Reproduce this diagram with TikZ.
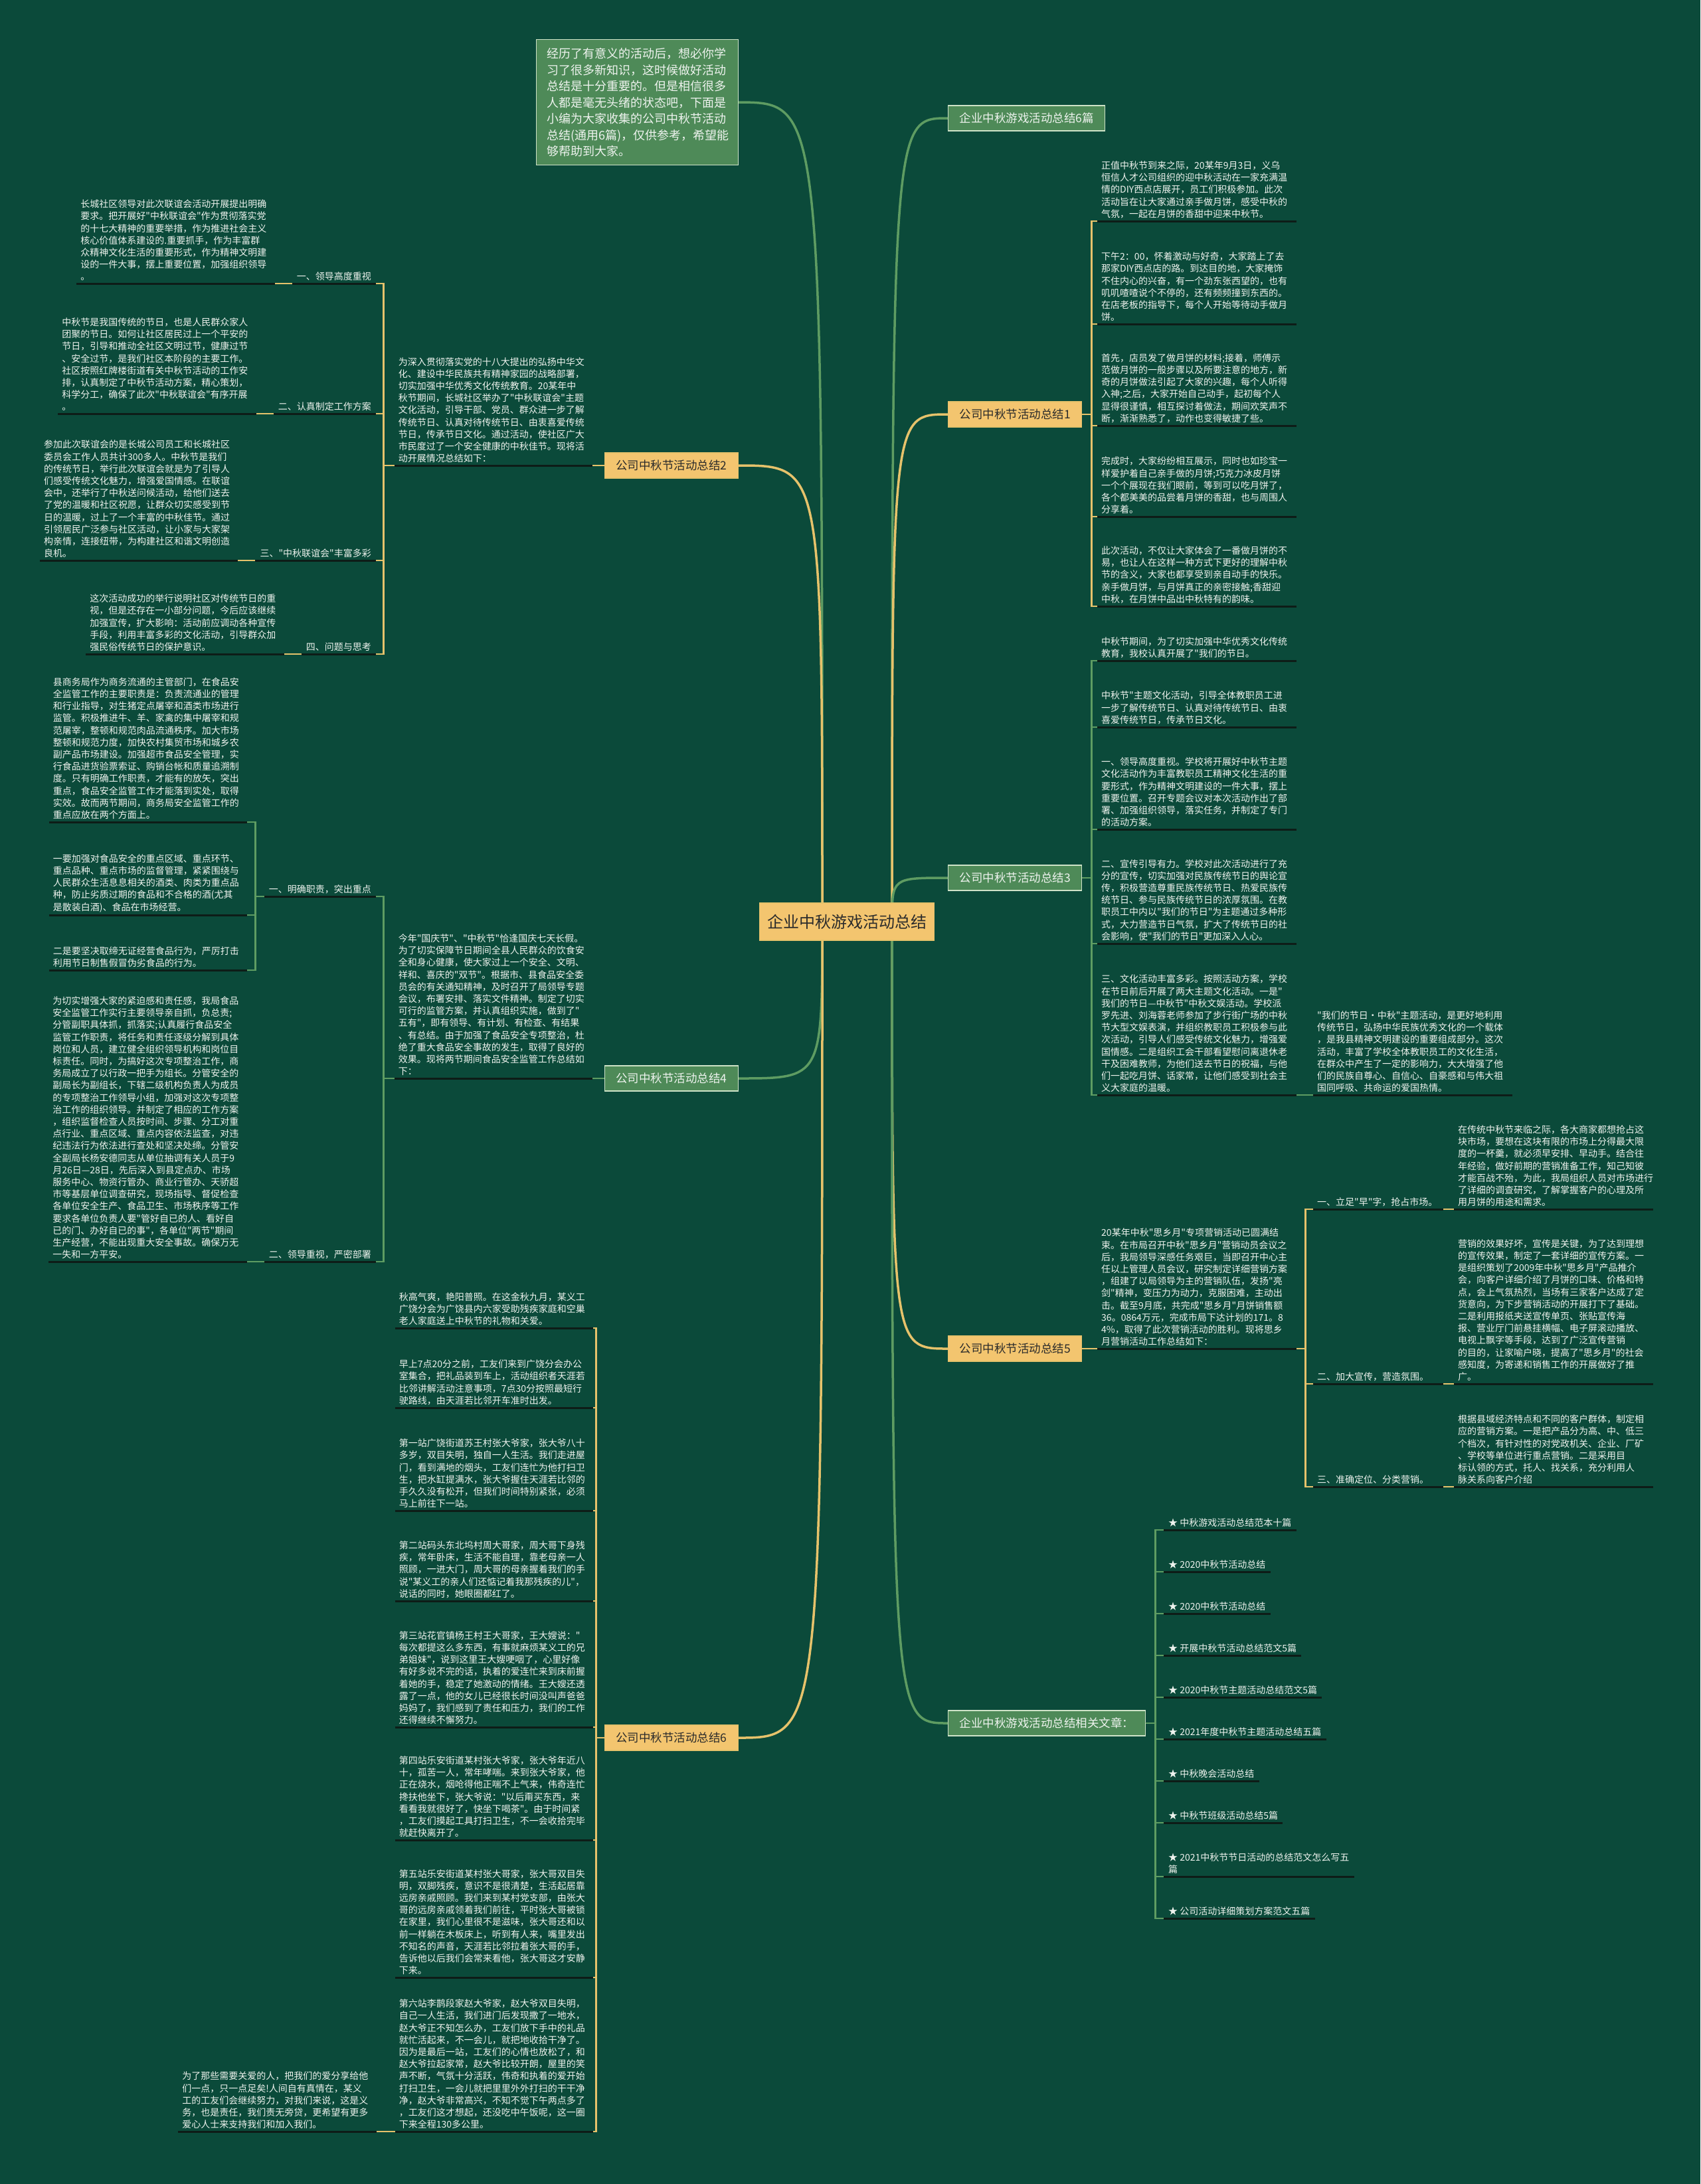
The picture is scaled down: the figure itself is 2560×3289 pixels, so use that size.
\documentclass[tikz,border=0pt]{standalone}
\usepackage{fontspec}
\newfontfamily\cjk{Noto Sans CJK SC}
\usetikzlibrary{positioning}
\definecolor{bg}{HTML}{0B4A3A}
\definecolor{yline}{HTML}{E6C26B}
\definecolor{yfill}{HTML}{F3C56F}
\definecolor{gline}{HTML}{5E9C62}
\definecolor{gfill}{HTML}{4E8A58}
\definecolor{gedge}{HTML}{CFE3C8}
\definecolor{paper}{HTML}{EEF3EE}
\definecolor{inkdark}{HTML}{2B2B2B}
\definecolor{ulcol}{HTML}{0E1C17}

\begin{document}
\begin{tikzpicture}[x=1pt, y=-1pt,
    font=\cjk\fontsize{14}{18.2}\selectfont,
    rootbox/.style={draw=yline, line width=1.5pt, fill=yfill, text=inkdark, font=\cjk\fontsize{24}{28}\selectfont, minimum width=263pt, minimum height=56pt},
    ybox/.style={draw=yline, line width=1.2pt, fill=yfill, text=inkdark, font=\cjk\fontsize{17.5}{20}\selectfont, minimum height=38pt, inner xsep=17pt},
    gbox/.style={draw=gedge, line width=1.2pt, fill=gfill, text=paper, font=\cjk\fontsize{17.5}{20}\selectfont, minimum height=38pt, inner xsep=17pt},
    introbox/.style={draw=gedge, line width=1.2pt, fill=gfill, text=paper, font=\cjk\fontsize{18}{24.5}\selectfont, align=left, text width=272pt, minimum height=189pt, inner xsep=16pt},
    para/.style={text=paper, align=left, text width=#1, inner xsep=6pt, inner ysep=4pt},
    para/.default=286pt,
    lab/.style={text=paper, align=left, inner xsep=7pt, inner ysep=4pt},
    uline/.style={draw=ulcol, line width=3pt},
    ylink/.style={draw=yline, line width=2.6pt},
    glink/.style={draw=gline, line width=2.6pt},
    ycurve/.style={draw=yline, line width=3.5pt},
    gcurve/.style={draw=gline, line width=3.5pt}
  ]
  \fill[bg] (0,0) rectangle (2560,3289);
  \useasboundingbox (0,0) rectangle (2560,3289);

  % centre and main topics
  \coordinate (rootR) at (1343,1388);
  \coordinate (rootL) at (1238,1388);
  \node[introbox, anchor=north east] (intro) at (1112,59) {经历了有意义的活动后，想必你学\\习了很多新知识，这时候做好活动\\总结是十分重要的。但是相信很多\\人都是毫无头绪的状态吧，下面是\\小编为大家收集的公司中秋节活动\\总结(通用6篇)，仅供参考，希望能\\够帮助到大家。};
  \node[gbox, anchor=west] (b0) at (1427,178) {企业中秋游戏活动总结6篇};
  \node[ybox, anchor=west] (b1) at (1427,624) {公司中秋节活动总结1};
  \node[gbox, anchor=west] (b3) at (1427,1322) {公司中秋节活动总结3};
  \node[ybox, anchor=west] (b5) at (1427,2031) {公司中秋节活动总结5};
  \node[gbox, anchor=west] (brel) at (1427,2595) {企业中秋游戏活动总结相关文章：};
  \node[ybox, anchor=east] (b2) at (1112,701) {公司中秋节活动总结2};
  \node[gbox, anchor=east] (b4) at (1112,1624) {公司中秋节活动总结4};
  \node[ybox, anchor=east] (b6) at (1112,2617) {公司中秋节活动总结6};

  \draw[gcurve] (rootL) .. controls (rootL |- intro.east) .. (intro.east);
  \draw[gcurve] (rootR) .. controls (rootR |- b0.west) .. (b0.west);
  \draw[ycurve] (rootR) .. controls (rootR |- b1.west) .. (b1.west);
  \draw[gcurve] (rootR) .. controls (rootR |- b3.west) .. (b3.west);
  \draw[ycurve] (rootR) .. controls (rootR |- b5.west) .. (b5.west);
  \draw[gcurve] (rootR) .. controls (rootR |- brel.west) .. (brel.west);
  \draw[ycurve] (rootL) .. controls (rootL |- b2.east) .. (b2.east);
  \draw[gcurve] (rootL) .. controls (rootL |- b4.east) .. (b4.east);
  \draw[ycurve] (rootL) .. controls (rootL |- b6.east) .. (b6.east);
  \node[rootbox] (root) at (1275,1388) {企业中秋游戏活动总结};

  % summary 1
  \node[para=288pt, anchor=south west] (r1a) at (1652,333) {正值中秋节到来之际，20某年9月3日，义乌\\恒信人才公司组织的迎中秋活动在一家充满温\\情的DIY西点店展开，员工们积极参加。此次\\活动旨在让大家通过亲手做月饼，感受中秋的\\气氛，一起在月饼的香甜中迎来中秋节。};
  \node[para=288pt, anchor=south west] (r1b) at (1652,488) {下午2：00，怀着激动与好奇，大家踏上了去\\那家DIY西点店的路。到达目的地，大家掩饰\\不住内心的兴奋，有一个劲东张西望的，也有\\叽叽喳喳说个不停的，还有频频撞到东西的。\\在店老板的指导下，每个人开始等待动手做月\\饼。};
  \node[para=288pt, anchor=south west] (r1c) at (1652,641) {首先，店员发了做月饼的材料;接着，师傅示\\范做月饼的一般步骤以及所要注意的地方，新\\奇的月饼做法引起了大家的兴趣，每个人听得\\入神;之后，大家开始自己动手，起初每个人\\显得很谨慎，相互探讨着做法，期间欢笑声不\\断，渐渐熟悉了，动作也变得敏捷了些。};
  \node[para=288pt, anchor=south west] (r1d) at (1652,778) {完成时，大家纷纷相互展示，同时也如珍宝一\\样爱护着自己亲手做的月饼;巧克力冰皮月饼\\一个个展现在我们眼前，等到可以吃月饼了，\\各个都美美的品尝着月饼的香甜，也与周围人\\分享着。};
  \node[para=288pt, anchor=south west] (r1e) at (1652,913) {此次活动，不仅让大家体会了一番做月饼的不\\易，也让人在这样一种方式下更好的理解中秋\\节的含义，大家也都享受到亲自动手的快乐。\\亲手做月饼，与月饼真正的亲密接触;香甜迎\\中秋，在月饼中品出中秋特有的韵味。};
  \foreach \c in {r1a,r1b,r1c,r1d,r1e}
    \draw[ylink] (b1.east) -- ++(14,0) |- (\c.south west);

  % summary 3
  \node[para=288pt, anchor=south west] (r3a) at (1652,995) {中秋节期间，为了切实加强中华优秀文化传统\\教育，我校认真开展了"我们的节日。};
  \node[para=288pt, anchor=south west] (r3b) at (1652,1095) {中秋节"主题文化活动，引导全体教职员工进\\一步了解传统节日、认真对待传统节日、由衷\\喜爱传统节日，传承节日文化。};
  \node[para=288pt, anchor=south west] (r3c) at (1652,1249) {一、领导高度重视。学校将开展好中秋节主题\\文化活动作为丰富教职员工精神文化生活的重\\要形式，作为精神文明建设的一件大事，摆上\\重要位置。召开专题会议对本次活动作出了部\\署、加强组织领导，落实任务，并制定了专门\\的活动方案。};
  \node[para=288pt, anchor=south west] (r3d) at (1652,1421) {二、宣传引导有力。学校对此次活动进行了充\\分的宣传，切实加强对民族传统节日的舆论宣\\传，积极营造尊重民族传统节日、热爱民族传\\统节日、参与民族传统节日的浓厚氛围。在教\\职员工中内以"我们的节日"为主题通过多种形\\式，大力营造节日气氛，扩大了传统节日的社\\会影响，使"我们的节日"更加深入人心。};
  \node[para=288pt, anchor=south west] (r3e) at (1652,1649) {三、文化活动丰富多彩。按照活动方案，学校\\在节日前后开展了两大主题文化活动。一是"\\我们的节日—中秋节"中秋文娱活动。学校派\\罗先进、刘海蓉老师参加了步行街广场的中秋\\节大型文娱表演，并组织教职员工积极参与此\\次活动，引导人们感受传统文化魅力，增强爱\\国情感。二是组织工会干部看望慰问离退休老\\干及困难教师，为他们送去节日的祝福，与他\\们一起吃月饼、话家常，让他们感受到社会主\\义大家庭的温暖。};
  \node[para=288pt, anchor=south west] (r3f) at (1977,1649) {"我们的节日·中秋"主题活动，是更好地利用\\传统节日，弘扬中华民族优秀文化的一个载体\\，是我县精神文明建设的重要组成部分。这次\\活动，丰富了学校全体教职员工的文化生活，\\在群众中产生了一定的影响力，大大增强了他\\们的民族自尊心、自信心、自豪感和与伟大祖\\国同呼吸、共命运的爱国热情。};
  \foreach \c in {r3a,r3b,r3c,r3d,r3e}
    \draw[glink] (b3.east) -- ++(14,0) |- (\c.south west);
  \draw[glink] (r3e.south east) -- (r3f.south west);

  % summary 5
  \node[para=288pt, anchor=south west] (r5a) at (1652,2031) {20某年中秋"思乡月"专项营销活动已圆满结\\束。在市局召开中秋"思乡月"营销动员会议之\\后，我局领导深感任务艰巨，当即召开中心主\\任以上管理人员会议，研究制定详细营销方案\\，组建了以局领导为主的营销队伍，发扬"亮\\剑"精神，变压力为动力，克服困难，主动出\\击。截至9月底，共完成"思乡月"月饼销售额\\36。0864万元，完成市局下达计划的171。8\\4\%，取得了此次营销活动的胜利。现将思乡\\月营销活动工作总结如下：};
  \node[para=184pt, anchor=south west] (r5l1) at (1977,1821) {一、立足"早"字，抢占市场。};
  \node[para=184pt, anchor=south west] (r5l2) at (1977,2084) {二、加大宣传，营造氛围。};
  \node[para=184pt, anchor=south west] (r5l3) at (1977,2239) {三、准确定位、分类营销。};
  \node[para=288pt, anchor=south west] (r5t1) at (2189,1821) {在传统中秋节来临之际，各大商家都想抢占这\\块市场，要想在这块有限的市场上分得最大限\\度的一杯羹，就必须早安排、早动手。结合往\\年经验，做好前期的营销准备工作，知己知彼\\才能百战不殆，为此，我局组织人员对市场进行\\了详细的调查研究，了解掌握客户的心理及所\\用月饼的用途和需求。};
  \node[para=288pt, anchor=south west] (r5t2) at (2189,2084) {营销的效果好坏，宣传是关键，为了达到理想\\的宣传效果，制定了一套详细的宣传方案。一\\是组织策划了2009年中秋"思乡月"产品推介\\会，向客户详细介绍了月饼的口味、价格和特\\点，会上气氛热烈，当场有三家客户达成了定\\货意向，为下步营销活动的开展打下了基础。\\二是利用报纸夹送宣传单页、张贴宣传海\\报、营业厅门前悬挂横幅、电子屏滚动播放、\\电视上飘字等手段，达到了广泛宣传营销\\的目的，让家喻户晓，提高了"思乡月"的社会\\感知度，为寄递和销售工作的开展做好了推\\广。};
  \node[para=288pt, anchor=south west] (r5t3) at (2189,2239) {根据县域经济特点和不同的客户群体，制定相\\应的营销方案。一是把产品分为高、中、低三\\个档次，有针对性的对党政机关、企业、厂矿\\、学校等单位进行重点营销。二是采用目\\标认领的方式，托人、找关系，充分利用人\\脉关系向客户介绍};
  \draw[ylink] (b5.east) -- (r5a.south west);
  \foreach \c in {r5l1,r5l2,r5l3}
    \draw[ylink] (r5a.south east) -- ++(13,0) |- (\c.south west);
  \draw[ylink] (r5l1.south east) -- (r5t1.south west);
  \draw[ylink] (r5l2.south east) -- (r5t2.south west);
  \draw[ylink] (r5l3.south east) -- (r5t3.south west);

  % related articles
  \node[lab, anchor=south west] (k1) at (1752,2304) {★ 中秋游戏活动总结范本十篇};
  \node[lab, anchor=south west] (k2) at (1752,2367) {★ 2020中秋节活动总结};
  \node[lab, anchor=south west] (k3) at (1752,2430) {★ 2020中秋节活动总结};
  \node[lab, anchor=south west] (k4) at (1752,2493) {★ 开展中秋节活动总结范文5篇};
  \node[lab, anchor=south west] (k5) at (1752,2556) {★ 2020中秋节主题活动总结范文5篇};
  \node[lab, anchor=south west] (k6) at (1752,2619) {★ 2021年度中秋节主题活动总结五篇};
  \node[lab, anchor=south west] (k7) at (1752,2682) {★ 中秋晚会活动总结};
  \node[lab, anchor=south west] (k8) at (1752,2745) {★ 中秋节班级活动总结5篇};
  \node[lab, anchor=south west] (k9) at (1752,2826) {★ 2021中秋节节日活动的总结范文怎么写五\\篇};
  \node[lab, anchor=south west] (k10) at (1752,2889) {★ 公司活动详细策划方案范文五篇};
  \foreach \c in {k1,k2,k3,k4,k5,k6,k7,k8,k9,k10}
    \draw[glink] (brel.east) -- ++(15,0) |- (\c.south west);

  % summary 2
  \node[para, anchor=south east] (l2t) at (892,701) {为深入贯彻落实党的十八大提出的弘扬中华文\\化、建设中华民族共有精神家园的战略部署，\\切实加强中华优秀文化传统教育。20某年中\\秋节期间，长城社区举办了"中秋联谊会"主题\\文化活动，引导干部、党员、群众进一步了解\\传统节日、认真对待传统节日、由衷喜爱传统\\节日，传承节日文化。通过活动，使社区广大\\市民度过了一个安全健康的中秋佳节。现将活\\动开展情况总结如下：};
  \node[lab, anchor=south east] (l2l1) at (566,427) {一、领导高度重视};
  \node[lab, anchor=south east] (l2l2) at (566,623) {二、认真制定工作方案};
  \node[lab, anchor=south east] (l2l3) at (566,844) {三、"中秋联谊会"丰富多彩};
  \node[lab, anchor=south east] (l2l4) at (566,985) {四、问题与思考};
  \node[para, anchor=south east] (l2a) at ([xshift=-26pt]l2l1.south west) {长城社区领导对此次联谊会活动开展提出明确\\要求。把开展好"中秋联谊会"作为贯彻落实党\\的十七大精神的重要举措，作为推进社会主义\\核心价值体系建设的.重要抓手，作为丰富群\\众精神文化生活的重要形式，作为精神文明建\\设的一件大事，摆上重要位置，加强组织领导\\。};
  \node[para, anchor=south east] (l2b) at ([xshift=-26pt]l2l2.south west) {中秋节是我国传统的节日，也是人民群众家人\\团聚的节日。如何让社区居民过上一个平安的\\节日，引导和推动全社区文明过节，健康过节\\、安全过节，是我们社区本阶段的主要工作。\\社区按照红牌楼街道有关中秋节活动的工作安\\排，认真制定了中秋节活动方案，精心策划，\\科学分工，确保了此次"中秋联谊会"有序开展\\。};
  \node[para, anchor=south east] (l2c) at ([xshift=-26pt]l2l3.south west) {参加此次联谊会的是长城公司员工和长城社区\\委员会工作人员共计300多人。中秋节是我们\\的传统节日，举行此次联谊会就是为了引导人\\们感受传统文化魅力，增强爱国情感。在联谊\\会中，还举行了中秋送问候活动，给他们送去\\了党的温暖和社区祝愿，让群众切实感受到节\\日的温暖，过上了一个丰富的中秋佳节。通过\\引领居民广泛参与社区活动，让小家与大家架\\构亲情，连接纽带，为构建社区和谐文明创造\\良机。};
  \node[para, anchor=south east] (l2d) at ([xshift=-26pt]l2l4.south west) {这次活动成功的举行说明社区对传统节日的重\\视，但是还存在一小部分问题，今后应该继续\\加强宣传，扩大影响：活动前应调动各种宣传\\手段，利用丰富多彩的文化活动，引导群众加\\强民俗传统节日的保护意识。};
  \draw[ylink] (b2.west) -- (l2t.south east);
  \foreach \c in {l2l1,l2l2,l2l3,l2l4}
    \draw[ylink] (l2t.south west) -- ++(-16,0) |- (\c.south east);
  \draw[ylink] (l2a.south east) -- (l2l1.south west);
  \draw[ylink] (l2b.south east) -- (l2l2.south west);
  \draw[ylink] (l2c.south east) -- (l2l3.south west);
  \draw[ylink] (l2d.south east) -- (l2l4.south west);

  % summary 4
  \node[para, anchor=south east] (l4t) at (892,1624) {今年"国庆节"、"中秋节"恰逢国庆七天长假。\\为了切实保障节日期间全县人民群众的饮食安\\全和身心健康，使大家过上一个安全、文明、\\祥和、喜庆的"双节"。根据市、县食品安全委\\员会的有关通知精神，及时召开了局领导专题\\会议，布署安排、落实文件精神。制定了切实\\可行的监管方案，并认真组织实施，做到了"\\五有"，即有领导、有计划、有检查、有结果\\、有总结。由于加强了食品安全专项整治，杜\\绝了重大食品安全事故的发生，取得了良好的\\效果。现将两节期间食品安全监管工作总结如\\下：};
  \node[lab, anchor=south east] (l4l1) at (566,1350) {一、明确职责，突出重点};
  \node[lab, anchor=south east] (l4l2) at (566,1900) {二、领导重视，严密部署};
  \node[para, anchor=south east] (l4a) at (372,1238) {县商务局作为商务流通的主管部门，在食品安\\全监管工作的主要职责是：负责流通业的管理\\和行业指导，对生猪定点屠宰和酒类市场进行\\监管。积极推进牛、羊、家禽的集中屠宰和规\\范屠宰，整顿和规范肉品流通秩序。加大市场\\整顿和规范力度，加快农村集贸市场和城乡农\\副产品市场建设。加强超市食品安全管理，实\\行食品进货验票索证、购销台帐和质量追溯制\\度。只有明确工作职责，才能有的放矢，突出\\重点，食品安全监管工作才能落到实处，取得\\实效。故而两节期间，商务局安全监管工作的\\重点应放在两个方面上。};
  \node[para, anchor=south east] (l4b) at (372,1378) {一要加强对食品安全的重点区域、重点环节、\\重点品种、重点市场的监督管理，紧紧围绕与\\人民群众生活息息相关的酒类、肉类为重点品\\种，防止劣质过期的食品和不合格的酒(尤其\\是散装白酒)、食品在市场经营。};
  \node[para, anchor=south east] (l4c) at (372,1461) {二是要坚决取缔无证经营食品行为，严厉打击\\利用节日制售假冒伪劣食品的行为。};
  \node[para, anchor=south east] (l4d) at ([xshift=-26pt]l4l2.south west) {为切实增强大家的紧迫感和责任感，我局食品\\安全监管工作实行主要领导亲自抓，负总责;\\分管副职具体抓，抓落实;认真履行食品安全\\监管工作职责，将任务和责任逐级分解到具体\\岗位和人员，建立健全组织领导机构和岗位目\\标责任。同时，为搞好这次专项整治工作，商\\务局成立了以行政一把手为组长。分管安全的\\副局长为副组长，下辖二级机构负责人为成员\\的专项整治工作领导小组，加强对这次专项整\\治工作的组织领导。并制定了相应的工作方案\\，组织监督检查人员按时间、步骤、分工对重\\点行业、重点区域、重点内容依法监查，对违\\纪违法行为依法进行查处和坚决处缔。分管安\\全副局长杨安德同志从单位抽调有关人员于9\\月26日—28日，先后深入到县定点办、市场\\服务中心、物资行管办、商业行管办、天骄超\\市等基层单位调查研究，现场指导、督促检查\\各单位安全生产、食品卫生、市场秩序等工作\\要求各单位负责人要"管好自已的人、看好自\\已的门、办好自已的事"，各单位"两节"期间\\生产经营，不能出现重大安全事故。确保万无\\一失和一方平安。};
  \draw[glink] (b4.west) -- (l4t.south east);
  \foreach \c in {l4l1,l4l2}
    \draw[glink] (l4t.south west) -- ++(-16,0) |- (\c.south east);
  \foreach \c in {l4a,l4b,l4c}
    \draw[glink] (l4l1.south west) -- ++(-13,0) |- (\c.south east);
  \draw[glink] (l4d.south east) -- (l4l2.south west);

  % summary 6
  \node[para, anchor=south east] (l6a) at (893,2000) {秋高气爽，艳阳普照。在这金秋九月，某义工\\广饶分会为广饶县内六家受助残疾家庭和空巢\\老人家庭送上中秋节的礼物和关爱。};
  \node[para, anchor=south east] (l6b) at (893,2120) {早上7点20分之前，工友们来到广饶分会办公\\室集合，把礼品装到车上，活动组织者天涯若\\比邻讲解活动注意事项，7点30分按照最短行\\驶路线，由天涯若比邻开车准时出发。};
  \node[para, anchor=south east] (l6c) at (893,2275) {第一站广饶街道苏王村张大爷家，张大爷八十\\多岁，双目失明，独自一人生活。我们走进屋\\门，看到满地的烟头，工友们连忙为他打扫卫\\生，把水缸提满水，张大爷握住天涯若比邻的\\手久久没有松开，但我们时间特别紧张，必须\\马上前往下一站。};
  \node[para, anchor=south east] (l6d) at (893,2411) {第二站码头东北坞村周大哥家，周大哥下身残\\疾，常年卧床，生活不能自理，靠老母亲一人\\照顾，一进大门，周大哥的母亲握着我们的手\\说"某义工的亲人们还惦记着我那残疾的儿"，\\说话的同时，她眼圈都红了。};
  \node[para, anchor=south east] (l6e) at (893,2601) {第三站花官镇杨王村王大哥家，王大嫂说："\\每次都提这么多东西，有事就麻烦某义工的兄\\弟姐妹"，说到这里王大嫂哽咽了，心里好像\\有好多说不完的话，执着的爱连忙来到床前握\\着她的手，稳定了她激动的情绪。王大嫂还透\\露了一点，他的女儿已经很长时间没叫声爸爸\\妈妈了，我们感到了责任和压力，我们的工作\\还得继续不懈努力。};
  \node[para, anchor=south east] (l6f) at (893,2771) {第四站乐安街道某村张大爷家，张大爷年近八\\十，孤苦一人，常年哮喘。来到张大爷家，他\\正在烧水，烟呛得他正喘不上气来，伟奇连忙\\搀扶他坐下，张大爷说："以后甭买东西，来\\看看我就很好了，快坐下喝茶"。由于时间紧\\，工友们摸起工具打扫卫生，不一会收拾完毕\\就赶快离开了。};
  \node[para, anchor=south east] (l6g) at (893,2978) {第五站乐安街道某村张大哥家，张大哥双目失\\明，双脚残疾，意识不是很清楚，生活起居靠\\远房亲戚照顾。我们来到某村党支部，由张大\\哥的远房亲戚领着我们前往，平时张大哥被锁\\在家里，我们心里很不是滋味，张大哥还和以\\前一样躺在木板床上，听到有人来，嘴里发出\\不知名的声音，天涯若比邻拉着张大哥的手，\\告诉他以后我们会常来看他，张大哥这才安静\\下来。};
  \node[para, anchor=south east] (l6h) at (893,3210) {第六站李鹊段家赵大爷家，赵大爷双目失明，\\自己一人生活，我们进门后发现撒了一地水，\\赵大爷正不知怎么办，工友们放下手中的礼品\\就忙活起来，不一会儿，就把地收拾干净了。\\因为是最后一站，工友们的心情也放松了，和\\赵大爷拉起家常，赵大爷比较开朗，屋里的笑\\声不断，气氛十分活跃，伟奇和执着的爱开始\\打扫卫生，一会儿就把里里外外打扫的干干净\\净，赵大爷非常高兴，不知不觉下午两点多了\\，工友们这才想起，还没吃中午饭呢，这一圈\\下来全程130多公里。};
  \node[para, anchor=south east] (l6x) at ([xshift=-28pt]l6h.south west) {为了那些需要关爱的人，把我们的爱分享给他\\们一点，只一点足矣!人间自有真情在，某义\\工的工友们会继续努力，对我们来说，这是义\\务，也是责任，我们责无旁贷，更希望有更多\\爱心人士来支持我们和加入我们。};
  \foreach \c in {l6a,l6b,l6c,l6d,l6e,l6f,l6g,l6h}
    \draw[ylink] (b6.west) -- ++(-12,0) |- (\c.south east);
  \draw[ylink] (l6x.south east) -- (l6h.south west);

  % underlines
  \foreach \n in {r1a,r1b,r1c,r1d,r1e,r3a,r3b,r3c,r3d,r3e,r3f,r5a,r5l1,r5l2,r5l3,r5t1,r5t2,r5t3,
      k1,k2,k3,k4,k5,k6,k7,k8,k9,k10,l2t,l2l1,l2l2,l2l3,l2l4,l2a,l2b,l2c,l2d,
      l4t,l4l1,l4l2,l4a,l4b,l4c,l4d,l6a,l6b,l6c,l6d,l6e,l6f,l6g,l6h,l6x}
    \draw[uline] (\n.south west) -- (\n.south east);
\end{tikzpicture}
\end{document}
